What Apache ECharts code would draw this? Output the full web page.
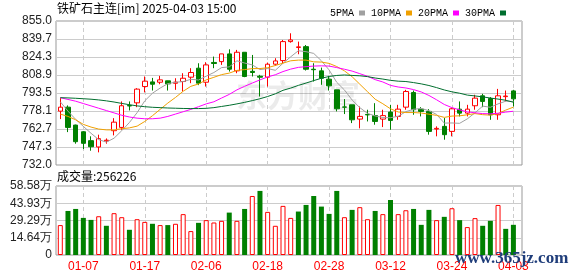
<!DOCTYPE html>
<html><head><meta charset="utf-8">
<script src="https://cdn.jsdelivr.net/npm/echarts@6/dist/echarts.min.js"></script>
<style>html,body{margin:0;padding:0;background:#fff}#c{width:578px;height:276px}</style>
</head><body><div id="c"></div>
<script>
const dates = ['01-02','01-03','01-06','01-07','01-08','01-09','01-10','01-13','01-14','01-15','01-16','01-17','01-20','01-21','01-22','01-23','01-24','01-27','02-05','02-06','02-07','02-10','02-11','02-12','02-13','02-14','02-17','02-18','02-19','02-20','02-21','02-24','02-25','02-26','02-27','02-28','03-03','03-04','03-05','03-06','03-07','03-10','03-11','03-12','03-13','03-14','03-17','03-18','03-19','03-20','03-21','03-24','03-25','03-26','03-27','03-28','03-31','04-01','04-02','04-03'];
const opens  = [778.0,781.4,766.1,760.4,752.8,747.4,752.6,761.3,764.1,782.8,785.1,799.0,803.0,802.7,803.9,801.8,803.3,807.0,814.7,802.7,819.6,820.3,826.9,812.4,828.3,812.0,807.8,807.0,818.1,821.2,837.4,832.4,833.1,813.8,812.4,805.3,796.2,781.6,783.4,771.2,775.2,774.2,771.2,777.2,773.5,781.4,793.9,779.7,777.8,762.7,765.0,760.7,779.7,776.3,782.6,791.1,788.8,774.9,790.4,795.3];
const closes = [781.4,764.1,751.9,750.5,747.6,754.5,753.2,768.6,782.6,782.4,796.8,803.6,801.0,804.7,801.3,802.8,806.1,811.0,801.9,817.5,818.7,826.9,813.8,828.3,807.6,811.0,807.0,818.1,820.9,837.4,838.8,832.9,813.8,813.4,806.1,799.6,780.0,781.4,770.6,773.5,774.8,769.2,774.2,770.1,779.7,794.8,779.2,777.8,760.7,763.3,757.9,780.0,776.3,779.7,789.1,786.3,774.9,791.1,790.9,788.5];
const lows   = [771.2,760.1,750.2,745.6,744.2,742.8,750.2,757.3,762.1,778.6,781.4,794.0,795.6,801.0,795.6,796.2,794.8,801.9,800.2,799.0,814.7,817.5,811.8,810.4,807.0,807.6,790.5,799.0,816.7,818.9,836.5,826.6,812.7,803.3,800.5,795.6,777.8,775.5,767.8,763.3,769.2,766.4,764.4,762.1,770.6,779.2,774.9,773.5,757.9,756.5,753.6,756.5,773.5,773.5,779.2,781.4,770.6,770.6,786.3,782.0];
const highs  = [789.1,782.9,766.5,761.0,756.5,757.9,754.7,772.0,786.3,786.3,797.6,807.6,806.4,808.1,804.0,806.1,810.4,814.7,818.9,819.8,824.6,826.9,830.8,830.3,828.3,826.0,809.0,819.5,823.2,838.8,844.5,837.4,834.5,818.9,815.2,808.1,796.2,788.3,783.4,782.0,779.2,784.8,779.2,783.4,783.4,796.2,795.6,781.4,779.7,765.0,772.1,780.6,786.3,783.4,792.0,792.8,790.0,797.0,795.6,796.2];
const volumes = [254000,374000,391000,315000,298000,329000,248000,355000,321000,214000,304000,281000,265000,254000,254000,265000,347000,203000,273000,296000,276000,290000,360000,290000,391000,501000,544000,366000,248000,417000,315000,369000,425000,501000,411000,349000,544000,321000,383000,406000,304000,374000,347000,467000,347000,380000,391000,256000,383000,296000,324000,397000,296000,237000,313000,248000,290000,425000,222000,256226];
const ma5  = [786.0,778.0,771.0,765.0,759.1,753.7,751.5,754.9,761.3,768.3,776.7,786.8,793.3,797.7,801.5,802.7,803.2,805.2,804.6,807.9,811.0,815.2,815.8,821.0,819.1,817.5,813.5,814.4,812.9,818.9,824.4,829.6,828.8,827.3,821.0,813.2,802.6,796.1,787.5,781.0,776.1,773.9,772.5,772.4,773.6,777.6,779.6,780.3,778.4,775.2,767.8,767.9,767.6,771.4,776.6,782.3,781.3,784.2,786.5,786.3];
const ma10 = [775.5,773.5,770.6,766.7,764.4,762.7,762.0,762.0,763.0,763.7,765.2,769.2,774.1,779.5,784.9,789.7,795.0,799.2,801.2,804.7,806.9,809.2,810.5,812.8,813.5,814.3,814.4,815.1,817.0,819.0,821.0,821.6,821.6,820.1,819.9,818.8,816.1,812.4,807.4,801.0,794.6,788.2,784.3,780.0,777.3,776.8,776.8,776.4,775.4,774.4,772.7,773.8,774.0,774.9,775.9,775.0,774.6,775.9,778.9,781.4];
const ma20 = [789.5,788.0,786.5,784.5,782.5,780.5,778.5,776.5,774.5,773.0,772.0,771.5,771.5,772.0,773.5,775.5,777.5,779.5,781.8,784.2,786.0,789.2,792.3,796.2,799.2,802.0,804.7,807.2,809.1,811.8,813.9,815.4,816.0,816.5,816.7,816.5,815.2,813.8,812.2,810.0,807.8,804.9,802.9,800.0,798.6,797.8,796.4,794.4,791.4,787.7,783.7,781.0,779.1,777.4,776.6,775.9,775.7,776.2,777.2,777.9];
const ma30 = [789.5,789.3,789.0,788.6,788.2,787.6,786.8,785.8,784.6,783.5,782.5,781.8,781.3,781.0,780.7,780.5,780.3,780.2,780.2,780.4,781.0,782.0,783.0,784.2,785.5,787.0,788.6,790.5,792.8,795.8,797.7,800.0,802.0,804.1,806.1,807.6,808.5,808.9,808.5,808.2,807.5,806.3,805.4,804.3,803.6,803.3,802.4,801.3,799.9,798.1,796.1,794.5,793.3,791.7,791.0,790.2,789.2,788.3,787.3,785.6];
const priceTicks = ['732.0','747.3','762.7','778.1','793.5','808.9','824.3','839.7','855.0'];
const volTicks = ['0','14.64万','29.29万','43.93万','58.58万'];
const titleText = '铁矿石主连[im] 2025-04-03 15:00';
const volText = '成交量:256226';

const RED = '#ff0000', GREEN = '#008000';
const PMIN = 732, PMAX = 855, PINT = 15.375;
const VMAX = 585800, VINT = 146450;
const tickIdx = (i) => (i - 3) % 8 === 0;

const candleData = dates.map((d, i) => [opens[i], closes[i], lows[i], highs[i]]);
const volData = volumes.map((v, i) => {
  const up = i === 0 ? closes[i] >= opens[i] : closes[i] >= closes[i - 1];
  return { value: v, itemStyle: up ? { color: '#ffffff', borderColor: RED, borderWidth: 1 } : { color: GREEN, borderColor: GREEN, borderWidth: 0 } };
});

const labelFont = 'Liberation Sans';
const chart = echarts.init(document.getElementById('c'), null, { renderer: 'canvas' });
const mkLine = (name, data, color) => ({
  name, type: 'line', data, xAxisIndex: 1, yAxisIndex: 1, showSymbol: false, symbol: 'none',
  lineStyle: { width: 1, color }, itemStyle: { color }, z: 5, animation: false
});
chart.setOption({
  animation: false,
  grid: [
    { left: 56, top: 21, width: 466, height: 144, show: true, borderColor: '#999', borderWidth: 1, backgroundColor: 'transparent' },
    { left: 60.3, top: 21, width: 453.1, height: 144 },
    { left: 56, top: 186, width: 466, height: 69, show: true, borderColor: '#999', borderWidth: 1, backgroundColor: 'transparent' },
    { left: 60.3, top: 186, width: 453.1, height: 69 }
  ],
  xAxis: [
    { gridIndex: 0, type: 'value', min: 0, max: 1, show: false },
    { gridIndex: 1, type: 'category', data: dates, boundaryGap: false,
      axisLine: { show: false }, axisTick: { show: false }, axisLabel: { show: false },
      splitLine: { show: true, interval: tickIdx, lineStyle: { color: '#cccccc', type: [4, 3], width: 1 } } },
    { gridIndex: 2, type: 'value', min: 0, max: 1, show: false },
    { gridIndex: 3, type: 'category', data: dates, boundaryGap: false,
      axisLine: { show: false }, axisTick: { show: false },
      axisLabel: { show: true, interval: tickIdx, color: RED, fontSize: 12, fontFamily: labelFont, margin: 6 },
      splitLine: { show: true, interval: tickIdx, lineStyle: { color: '#cccccc', type: [4, 3], width: 1 } } }
  ],
  yAxis: [
    { gridIndex: 0, type: 'value', min: PMIN, max: PMAX, interval: PINT,
      axisLine: { show: false }, axisTick: { show: false },
      axisLabel: { color: '#222', fontSize: 12, fontFamily: labelFont, margin: 4,
        formatter: (v) => priceTicks[Math.round((v - PMIN) / PINT)] },
      splitLine: { show: true, lineStyle: { color: '#cccccc', width: 1 } } },
    { gridIndex: 1, type: 'value', min: PMIN, max: PMAX, show: false, splitLine: { show: false } },
    { gridIndex: 2, type: 'value', min: 0, max: VMAX, interval: VINT,
      axisLine: { show: false }, axisTick: { show: false },
      axisLabel: { color: '#222', fontSize: 12, fontFamily: labelFont, margin: 4,
        formatter: (v) => volTicks[Math.round(v / VINT)] },
      splitLine: { show: true, lineStyle: { color: '#cccccc', width: 1 } } },
    { gridIndex: 3, type: 'value', min: 0, max: VMAX, show: false, splitLine: { show: false } }
  ],
  legend: {
    data: ['5PMA', '10PMA', '20PMA', '30PMA'], right: 67, top: 3, align: 'right', icon: 'rect',
    itemWidth: 6, itemHeight: 5, itemGap: 6, selectedMode: false,
    textStyle: { fontFamily: 'Liberation Mono', fontSize: 10, color: '#000' }
  },
  graphic: [
    { type: 'text', left: 57, top: 2, z: 10, style: { text: titleText, font: '12px "Noto Sans CJK SC"', fill: '#000' } },
    { type: 'text', left: 57, top: 170, z: 10, style: { text: volText, font: '12px "Noto Sans CJK SC"', fill: '#000' } },
    { type: 'text', left: 236, top: 80, z: 1, style: { text: '东方财富', font: 'bold 31px "Noto Sans CJK SC"', fill: 'rgba(0,0,0,0.08)' } },
    { type: 'text', left: 455, top: 250, z: 20, style: { text: 'www.365jz.com', font: 'bold 17px "Liberation Serif"', fill: '#1f3d7a' } }
  ],
  series: [
    { name: 'K', type: 'candlestick', data: candleData, xAxisIndex: 1, yAxisIndex: 1, barWidth: 5, clip: false,
      itemStyle: { color: '#ffffff', color0: GREEN, borderColor: RED, borderColor0: GREEN, borderWidth: 1 }, z: 3 },
    mkLine('5PMA', ma5, '#a0a0a0'),
    mkLine('10PMA', ma10, '#f0a000'),
    mkLine('20PMA', ma20, '#ff00ff'),
    mkLine('30PMA', ma30, '#006e2e'),
    { name: 'VOL', type: 'bar', data: volData, xAxisIndex: 3, yAxisIndex: 3, barWidth: 5, clip: false, z: 3 }
  ]
});
</script></body></html>
